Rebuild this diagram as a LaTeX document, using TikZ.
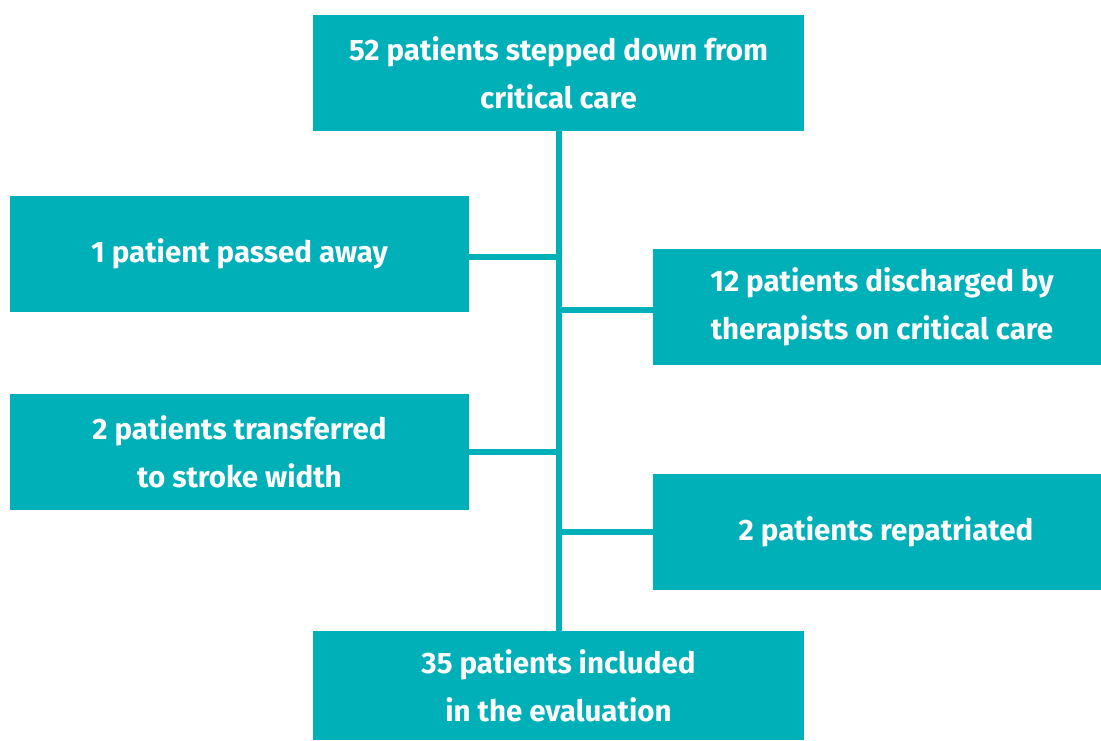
\documentclass[tikz,border=0pt]{standalone}
\usepackage{fontspec}
\setmainfont{Fira Sans}
\definecolor{teal}{RGB}{0,176,185}
\begin{document}
\begin{tikzpicture}[x=1pt,y=-1pt,
  box/.style={fill=teal, draw=none, text=white, align=center, inner sep=0pt,
    font=\fontsize{29.5}{48}\selectfont\bfseries},
  link/.style={draw=teal, line width=6pt}]
\useasboundingbox (0,0) rectangle (1101,740);
\node[box, minimum width=491pt, minimum height=116pt] (top) at (558.5,73) {52 patients stepped down from\\critical care};
\node[box, minimum width=459pt, minimum height=116pt] (l1) at (239.5,254) {1 patient passed away};
\node[box, minimum width=448pt, minimum height=116pt] (r1) at (877,307) {\hspace*{10pt}12 patients discharged by\\\hspace*{10pt}therapists on critical care};
\node[box, minimum width=459pt, minimum height=116pt] (l2) at (239.5,452) {2 patients transferred\\to stroke width};
\node[box, minimum width=448pt, minimum height=116pt] (r2) at (877,532) {\hspace*{18pt}2 patients repatriated};
\node[box, minimum width=491pt, minimum height=109pt] (bot) at (558.5,685.5) {35 patients included\\in the evaluation};
\draw[link] (top.south) -- (bot.north);
\draw[link] ([yshift=-2.5pt]l1.east) -- ([yshift=-2.5pt]l1.east -| top.south);
\draw[link] ([yshift=-3pt]r1.west) -- ([yshift=-3pt]r1.west -| top.south);
\draw[link] (l2.east) -- (l2.east -| top.south);
\draw[link] (r2.west) -- (r2.west -| top.south);
\end{tikzpicture}
\end{document}
